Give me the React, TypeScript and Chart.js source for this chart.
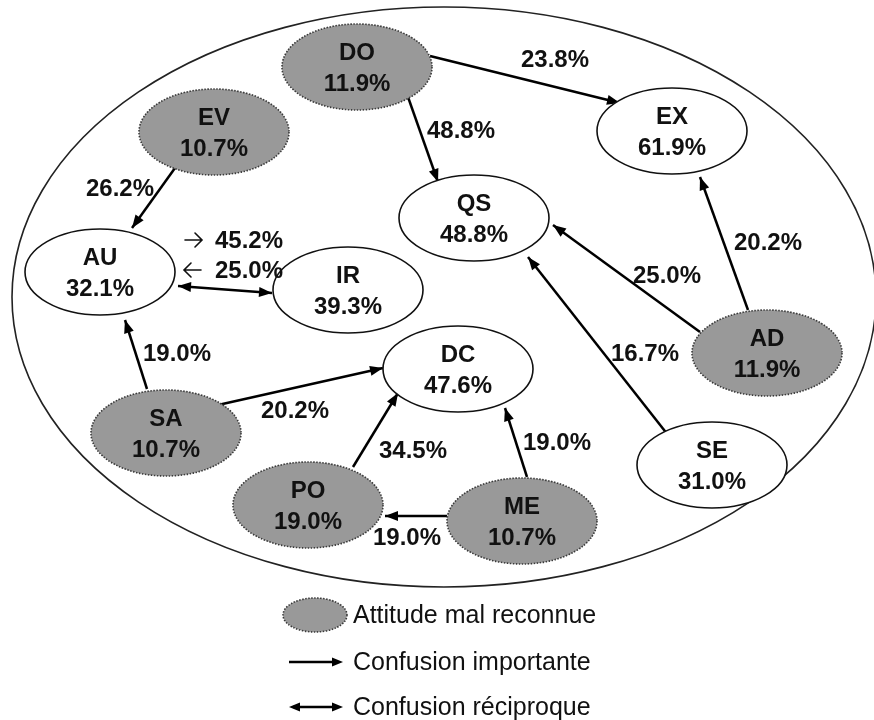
import React, { useEffect, useRef } from "react";
import { Chart, registerables } from "chart.js";

Chart.register(...registerables);

const CANVAS_W = 874;
const CANVAS_H = 720;

// ---- Nodes (attitudes) ----
const nodeNames = ["DO", "EV", "EX", "QS", "AU", "IR", "DC", "AD", "SA", "SE", "PO", "ME"];
const nodeRates = [11.9, 10.7, 61.9, 48.8, 32.1, 39.3, 47.6, 11.9, 10.7, 31.0, 19.0, 10.7];
const nodeMisrecognized = [true, true, false, false, false, false, false, true, true, false, true, true];
// layout (diagram units)
const nodeX = [357, 214, 672, 474, 100, 348, 458, 767, 166, 712, 308, 522];
const nodeY = [67, 132, 131, 218, 272, 290, 369, 353, 433, 465, 505, 521];

// ---- Edges (confusions) ----
const edgeFrom = ["DO", "DO", "EV", "AU", "AD", "AD", "SE", "SA", "SA", "PO", "ME", "ME"];
const edgeTo = ["EX", "QS", "AU", "IR", "EX", "QS", "QS", "AU", "DC", "DC", "DC", "PO"];
const edgeRates = [23.8, 48.8, 26.2, 45.2, 20.2, 25.0, 16.7, 19.0, 20.2, 34.5, 19.0, 19.0];
const edgeReverseRates: (number | null)[] = [null, null, null, 25.0, null, null, null, null, null, null, null, null];
// layout (diagram units)
const edgeStartX = [430, 408, 175, 178, 748, 700, 668, 147, 218, 353, 527, 447];
const edgeStartY = [56, 97, 168, 286, 310, 332, 435, 389, 405, 467, 477, 516];
const edgeEndX = [620, 438, 132, 272, 700, 553, 528, 125, 383, 398, 505, 385];
const edgeEndY = [103, 182, 228, 293, 177, 225, 257, 320, 368, 393, 408, 516];
const edgeLabelX = [555, 461, 120, 233, 768, 667, 645, 177, 295, 413, 557, 407];
const edgeLabelY = [59, 130, 188, 240, 242, 275, 353, 353, 410, 450, 442, 537];
const edgeReverseLabelY = [null, null, null, 270, null, null, null, null, null, null, null, null];

// ---- Legend ----
const legendLabels = ["Attitude mal reconnue", "Confusion importante", "Confusion réciproque"];

// ---- Styles ----
const NODE_RX = 75;
const NODE_RY = 43;
const OUTER = { cx: 444, cy: 297, rx: 432, ry: 290 };
const GRAY = "#999999";
const BOLD_FONT = 'bold 24px "Liberation Sans", Arial, sans-serif';
const LEGEND_FONT = '25px "Liberation Sans", Arial, sans-serif';

function fmt(v: number) {
  return v.toFixed(1) + "%";
}

function arrowHead(ctx: CanvasRenderingContext2D, fx: number, fy: number, tx: number, ty: number, len = 13, half = 5) {
  const a = Math.atan2(ty - fy, tx - fx);
  const c = Math.cos(a), s = Math.sin(a);
  ctx.beginPath();
  ctx.moveTo(tx, ty);
  ctx.lineTo(tx - len * c + half * s, ty - len * s - half * c);
  ctx.lineTo(tx - len * c - half * s, ty - len * s + half * c);
  ctx.closePath();
  ctx.fill();
}

// thin open "→" / "←" glyph
function glyphArrow(ctx: CanvasRenderingContext2D, x1: number, x2: number, y: number, dir: 1 | -1) {
  ctx.save();
  ctx.strokeStyle = "#111";
  ctx.lineWidth = 1.6;
  ctx.lineCap = "round";
  ctx.beginPath();
  ctx.moveTo(x1, y);
  ctx.lineTo(x2, y);
  const tip = dir === 1 ? x2 : x1;
  const back = tip - dir * 7;
  ctx.moveTo(back, y - 7);
  ctx.lineTo(tip, y);
  ctx.lineTo(back, y + 7);
  ctx.stroke();
  ctx.restore();
}

function drawNodeEllipse(ctx: CanvasRenderingContext2D, x: number, y: number, rx: number, ry: number, gray: boolean) {
  ctx.save();
  ctx.beginPath();
  ctx.ellipse(x, y, rx, ry, 0, 0, Math.PI * 2);
  ctx.fillStyle = gray ? GRAY : "#ffffff";
  ctx.fill();
  if (gray) {
    ctx.setLineDash([1.5, 1.5]);
    ctx.strokeStyle = "#3a3a3a";
    ctx.lineWidth = 1.6;
  } else {
    ctx.strokeStyle = "#111111";
    ctx.lineWidth = 1.6;
  }
  ctx.stroke();
  ctx.restore();
}

const diagramPlugin = {
  id: "diagram",
  beforeDatasetsDraw(chart: any) {
    const ctx: CanvasRenderingContext2D = chart.ctx;
    const xs = chart.scales.x, ys = chart.scales.y;
    const cx = xs.getPixelForValue(OUTER.cx);
    const cy = ys.getPixelForValue(OUTER.cy);
    const rx = Math.abs(xs.getPixelForValue(OUTER.cx + OUTER.rx) - cx);
    const ry = Math.abs(ys.getPixelForValue(OUTER.cy + OUTER.ry) - cy);
    ctx.save();
    ctx.beginPath();
    ctx.ellipse(cx, cy, rx, ry, 0, 0, Math.PI * 2);
    ctx.lineWidth = 1.6;
    ctx.strokeStyle = "#222222";
    ctx.stroke();
    ctx.restore();
  },
  afterDatasetsDraw(chart: any) {
    const ctx: CanvasRenderingContext2D = chart.ctx;
    const xs = chart.scales.x, ys = chart.scales.y;
    const px = (v: number) => xs.getPixelForValue(v);
    const py = (v: number) => ys.getPixelForValue(v);

    // arrowheads
    ctx.save();
    ctx.fillStyle = "#000";
    edgeFrom.forEach((_, i) => {
      const pts = chart.getDatasetMeta(i + 1).data;
      const a = pts[0], b = pts[1];
      arrowHead(ctx, a.x, a.y, b.x, b.y);
      if (edgeReverseRates[i] != null) arrowHead(ctx, b.x, b.y, a.x, a.y);
    });
    ctx.restore();

    // nodes
    const nodeMeta = chart.getDatasetMeta(0).data;
    nodeNames.forEach((name, i) => {
      const p = nodeMeta[i];
      const rx = Math.abs(px(nodeX[i] + NODE_RX) - p.x);
      const ry = Math.abs(py(nodeY[i] + NODE_RY) - p.y);
      drawNodeEllipse(ctx, p.x, p.y, rx, ry, nodeMisrecognized[i]);
      ctx.save();
      ctx.fillStyle = "#111";
      ctx.font = BOLD_FONT;
      ctx.textAlign = "center";
      ctx.textBaseline = "middle";
      ctx.fillText(name, p.x, p.y - 14);
      ctx.fillText(fmt(nodeRates[i]), p.x, p.y + 17);
      ctx.restore();
    });

    // edge labels
    ctx.save();
    ctx.fillStyle = "#111";
    ctx.font = BOLD_FONT;
    ctx.textBaseline = "middle";
    edgeRates.forEach((r, i) => {
      const rev = edgeReverseRates[i];
      const lx = px(edgeLabelX[i]);
      const ly = py(edgeLabelY[i]);
      if (rev != null) {
        const ry2 = py(edgeReverseLabelY[i] as number);
        ctx.textAlign = "left";
        glyphArrow(ctx, lx - 48, lx - 31, ly, 1);
        ctx.fillText(fmt(r), lx - 18, ly + 1);
        glyphArrow(ctx, lx - 49, lx - 32, ry2, -1);
        ctx.fillText(fmt(rev), lx - 18, ry2 + 1);
      } else {
        ctx.textAlign = "center";
        ctx.fillText(fmt(r), lx, ly + 1);
      }
    });
    ctx.restore();

    // legend
    ctx.save();
    drawNodeEllipse(ctx, px(315), py(615), 32, 17, true);
    ctx.strokeStyle = "#000";
    ctx.fillStyle = "#000";
    ctx.lineWidth = 2.5;
    ctx.beginPath();
    ctx.moveTo(px(289), py(662));
    ctx.lineTo(px(338), py(662));
    ctx.stroke();
    arrowHead(ctx, px(289), py(662), px(343), py(662), 11, 4.5);
    ctx.beginPath();
    ctx.moveTo(px(293), py(707));
    ctx.lineTo(px(338), py(707));
    ctx.stroke();
    arrowHead(ctx, px(289), py(707), px(343), py(707), 11, 4.5);
    arrowHead(ctx, px(343), py(707), px(289), py(707), 11, 4.5);
    ctx.font = LEGEND_FONT;
    ctx.fillStyle = "#111";
    ctx.textAlign = "left";
    ctx.textBaseline = "middle";
    ctx.fillText(legendLabels[0], px(353), py(616));
    ctx.fillText(legendLabels[1], px(353), py(663));
    ctx.fillText(legendLabels[2], px(353), py(708));
    ctx.restore();
  },
};

export default function App() {
  const canvasRef = useRef<HTMLCanvasElement | null>(null);

  useEffect(() => {
    const canvas = canvasRef.current;
    if (!canvas) return;

    const nodeData = nodeNames.map((_, i) => ({ x: nodeX[i], y: nodeY[i] }));
    const edgeDatasets = edgeFrom.map((f, i) => ({
      label: f + "\u2192" + edgeTo[i],
      data: [
        { x: edgeStartX[i], y: edgeStartY[i] },
        { x: edgeEndX[i], y: edgeEndY[i] },
      ],
      showLine: true,
      borderColor: "#000000",
      borderWidth: 2.5,
      pointRadius: 0,
      fill: false,
      tension: 0,
      clip: false as any,
    }));

    const chart = new Chart(canvas, {
      type: "scatter",
      data: {
        datasets: [
          {
            label: "nodes",
            data: nodeData,
            pointRadius: 0,
            showLine: false,
          } as any,
          ...(edgeDatasets as any[]),
        ],
      },
      options: {
        responsive: false,
        animation: false,
        devicePixelRatio: 1,
        layout: { padding: 0 },
        plugins: {
          legend: { display: false },
          tooltip: { enabled: false },
          title: { display: false },
        },
        events: [],
        scales: {
          x: { type: "linear", min: 0, max: CANVAS_W, display: false },
          y: { type: "linear", min: 0, max: CANVAS_H, reverse: true, display: false },
        },
      },
      plugins: [diagramPlugin],
    });

    return () => chart.destroy();
  }, []);

  return (
    <div style={{ position: "absolute", left: 0, top: 0, width: CANVAS_W, height: CANVAS_H, background: "#fff" }}>
      <canvas ref={canvasRef} width={CANVAS_W} height={CANVAS_H} style={{ display: "block" }} />
    </div>
  );
}
